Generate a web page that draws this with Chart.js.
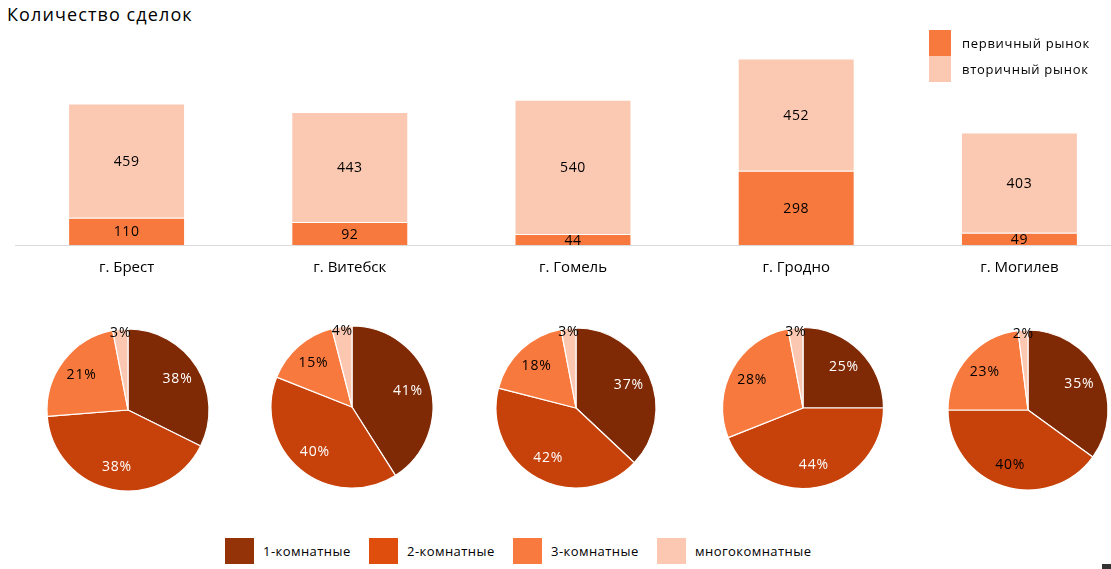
<!DOCTYPE html>
<html>
<head>
<meta charset="utf-8">
<script src="https://cdn.jsdelivr.net/npm/chart.js@4/dist/chart.umd.min.js"></script>
<style>
  html, body { margin: 0; padding: 0; background: #fff; overflow: hidden; }
  body { width: 1111px; height: 569px; position: relative; font-family: "Open Sans", sans-serif; color: #000; }
  #title { position: absolute; left: 7px; top: 2px; font-size: 18px; letter-spacing: 1.1px; }
  #barWrap { position: absolute; left: 0; top: 0; width: 1131px; height: 285px; }
  .pieWrap { position: absolute; width: 180px; height: 180px; }
  #mktLegend { position: absolute; left: 929px; top: 30px; }
  .mk { display: flex; align-items: center; height: 26px; font-size: 13px; letter-spacing: 0.7px; }
  .mk span.sw { width: 22px; height: 26px; margin-right: 11px; }
  #roomLegend { position: absolute; top: 538px; left: 0; width: 1111px; height: 26px; }
  .rl { position: absolute; top: 0; display: flex; align-items: center; height: 26px; font-size: 13px; letter-spacing: 0.45px; }
  .rl span.sw { width: 29px; height: 26px; margin-right: 9px; }
  #dot { position: absolute; left: 1102px; top: 564px; width: 9px; height: 5px; background: #333; }
</style>
</head>
<body>
<div id="title">Количество сделок</div>
<div id="barWrap"><canvas id="bars"></canvas></div>
<div id="mktLegend"></div>
<div class="pieWrap" id="pw0"><canvas id="pie0"></canvas></div>
<div class="pieWrap" id="pw1"><canvas id="pie1"></canvas></div>
<div class="pieWrap" id="pw2"><canvas id="pie2"></canvas></div>
<div class="pieWrap" id="pw3"><canvas id="pie3"></canvas></div>
<div class="pieWrap" id="pw4"><canvas id="pie4"></canvas></div>
<div id="roomLegend"></div>
<div id="dot"></div>
<script>
// ---- data ----
const cities = ["г. Брест", "г. Витебск", "г. Гомель", "г. Гродно", "г. Могилев"];
const marketSeries = ["первичный рынок", "вторичный рынок"];
const primaryMarket = [110, 92, 44, 298, 49];
const secondaryMarket = [459, 443, 540, 452, 403];

const roomTypes = ["1-комнатные", "2-комнатные", "3-комнатные", "многокомнатные"];
// slice sizes as drawn (share of deals, %)
const sharesBrest   = [32, 41, 23, 3];
const sharesVitebsk = [41, 40, 15, 4];
const sharesGomel   = [37, 42, 18, 3];
const sharesGrodno  = [25, 44, 28, 3];
const sharesMogilev = [35, 40, 23, 2];
// percentage labels as printed on the slices
const labelsBrest   = ["38%", "38%", "21%", "3%"];
const labelsVitebsk = ["41%", "40%", "15%", "4%"];
const labelsGomel   = ["37%", "42%", "18%", "3%"];
const labelsGrodno  = ["25%", "44%", "28%", "3%"];
const labelsMogilev = ["35%", "40%", "23%", "2%"];

// ---- styles ----
const FONT = '"Open Sans", sans-serif';
const marketColors = ["#F7793D", "#FBC8B2"];
const pieColors = ["#7F2A05", "#C7420A", "#F7793D", "#FCC7B0"];
const roomLegendColors = ["#943208", "#E04E0D", "#F87A3E", "#FDC8B1"];

// ---- bar chart ----
const barLabelPlugin = {
  id: 'barLabels',
  afterDatasetsDraw(chart) {
    const ctx = chart.ctx;
    ctx.save();
    ctx.font = '14px ' + FONT;
    try { ctx.letterSpacing = '0.6px'; } catch (e) {}
    ctx.fillStyle = '#000';
    ctx.textAlign = 'center';
    ctx.textBaseline = 'middle';
    chart.data.datasets.forEach((ds, di) => {
      const meta = chart.getDatasetMeta(di);
      meta.data.forEach((bar, i) => {
        const yc = (bar.y + bar.base) / 2;
        ctx.fillText(String(ds.data[i]), bar.x, yc + 1);
      });
    });
    ctx.restore();
  }
};

new Chart(document.getElementById('bars'), {
  type: 'bar',
  data: {
    labels: cities,
    datasets: [
      { label: marketSeries[0], data: primaryMarket, backgroundColor: marketColors[0], borderColor: 'rgba(255,255,255,0.35)', borderWidth: 1 },
      { label: marketSeries[1], data: secondaryMarket, backgroundColor: marketColors[1], borderColor: 'rgba(255,255,255,0.35)', borderWidth: 1 }
    ]
  },
  options: {
    responsive: true,
    maintainAspectRatio: false,
    animation: false,
    layout: { padding: { left: 15, right: 0, top: 46, bottom: 0 } },
    plugins: { legend: { display: false }, tooltip: { enabled: false } },
    datasets: { bar: { categoryPercentage: 1, barPercentage: 0.524 } },
    scales: {
      x: {
        stacked: true,
        grid: { display: false, drawTicks: false },
        border: { display: true, color: '#DADADA', width: 1 },
        ticks: { color: '#000', font: { family: FONT, size: 15 }, padding: 14 },
        afterFit(scale) { scale.height = 40; }
      },
      y: {
        stacked: true,
        display: false,
        min: 0,
        max: 800
      }
    }
  },
  plugins: [barLabelPlugin]
});

// market legend (HTML)
const mk = document.getElementById('mktLegend');
marketSeries.forEach((s, i) => {
  const d = document.createElement('div');
  d.className = 'mk';
  d.innerHTML = '<span class="sw" style="background:' + marketColors[i] + '"></span>' + s;
  mk.appendChild(d);
});

// ---- pies ----
const pieShares = [sharesBrest, sharesVitebsk, sharesGomel, sharesGrodno, sharesMogilev];
const pieLabels = [labelsBrest, labelsVitebsk, labelsGomel, labelsGrodno, labelsMogilev];
const pieCenters = [[128, 410], [351.7, 406.7], [575.7, 408.3], [802.7, 408.3], [1028.3, 410]];
const pieRadii = [81, 81, 80, 80.5, 80];
const labelColorSets = [
  ['#fff', '#fff', '#000', '#000'],
  ['#fff', '#fff', '#000', '#000'],
  ['#fff', '#fff', '#000', '#000'],
  ['#fff', '#fff', '#000', '#000'],
  ['#fff', '#000', '#000', '#000']
];

const pieLabelPlugin = {
  id: 'pieLabels',
  afterDatasetsDraw(chart, args, opts) {
    const ctx = chart.ctx;
    const meta = chart.getDatasetMeta(0);
    const values = chart.data.datasets[0].data;
    ctx.save();
    ctx.font = '14px ' + FONT;
    try { ctx.letterSpacing = '0.8px'; } catch (e) {}
    ctx.textAlign = 'center';
    ctx.textBaseline = 'middle';
    meta.data.forEach((arc, i) => {
      const mid = (arc.startAngle + arc.endAngle) / 2;
      const f = values[i] < 5 ? 0.95 : 0.72;
      const r = arc.outerRadius * f;
      const x = arc.x + Math.cos(mid) * r;
      const y = arc.y + Math.sin(mid) * r;
      ctx.fillStyle = opts.colors[i];
      ctx.fillText(opts.texts[i], x, y);
    });
    ctx.restore();
  }
};

pieShares.forEach((shares, k) => {
  const w = document.getElementById('pw' + k);
  w.style.left = (pieCenters[k][0] - 90) + 'px';
  w.style.top = (pieCenters[k][1] - 90) + 'px';
  new Chart(document.getElementById('pie' + k), {
    type: 'pie',
    data: {
      labels: roomTypes,
      datasets: [{
        data: shares,
        backgroundColor: pieColors,
        borderColor: '#fff',
        borderWidth: 1.2,
        radius: pieRadii[k],
        hoverOffset: 0
      }]
    },
    options: {
      responsive: true,
      maintainAspectRatio: false,
      animation: false,
      layout: { padding: 0 },
      plugins: {
        legend: { display: false },
        tooltip: { enabled: false },
        pieLabels: { texts: pieLabels[k], colors: labelColorSets[k] }
      }
    },
    plugins: [pieLabelPlugin]
  });
});

// room legend (HTML)
const rl = document.getElementById('roomLegend');
const roomLegendX = [225, 369, 513, 657];
roomTypes.forEach((s, i) => {
  const d = document.createElement('div');
  d.className = 'rl';
  d.style.left = roomLegendX[i] + 'px';
  d.innerHTML = '<span class="sw" style="background:' + roomLegendColors[i] + '"></span>' + s;
  rl.appendChild(d);
});
</script>
</body>
</html>
